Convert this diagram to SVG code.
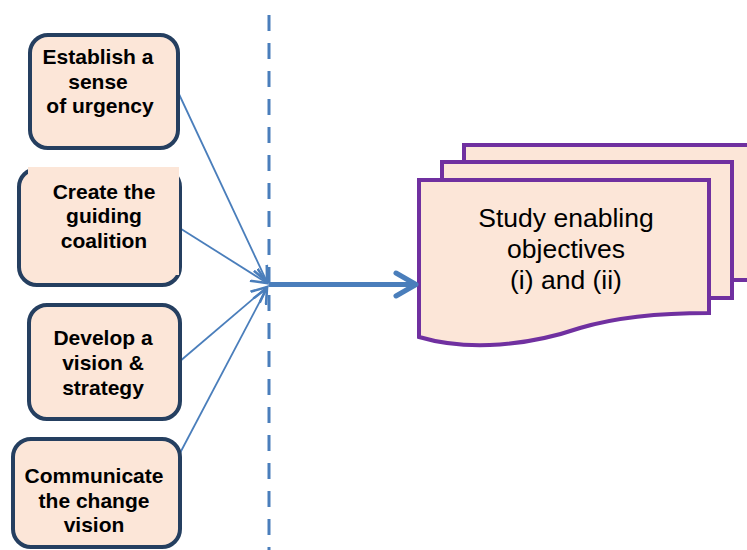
<svg xmlns="http://www.w3.org/2000/svg" width="747" height="550" viewBox="0 0 747 550">
<defs>
<style>
.box{fill:#FCE6D8;stroke:#253F60;stroke-width:4}
.lbl{font-family:"Liberation Sans",Arial,sans-serif;font-weight:bold;font-size:21px;fill:#000;text-anchor:middle}
.doc{fill:#FCE6D8;stroke:#7030A0;stroke-width:4;stroke-linejoin:miter}
.dtxt{font-family:"Liberation Sans",Arial,sans-serif;font-size:26.5px;fill:#000;text-anchor:middle}
.thin{stroke:#4A7EBB;stroke-width:1.8;fill:none}
</style>
<marker id="ah" markerUnits="userSpaceOnUse" markerWidth="20" markerHeight="20" refX="11" refY="6" orient="auto" viewBox="0 0 14 12">
<path d="M0,1 L11,6 L0,11" fill="none" stroke="#4A7EBB" stroke-width="1.8"/>
</marker>
</defs>
<rect width="747" height="550" fill="#fff"/>

<g id="docs">
<path class="doc" d="M464,145 H760 V280 H464 Z"/>
<path class="doc" d="M442,162 H732 V298 H442 Z"/>
<path class="doc" d="M419,180 H709 V313 C670,313 620,316 580,328 C530,345 470,352 419,337 Z"/>
<text class="dtxt" x="566" y="227">Study enabling</text>
<text class="dtxt" x="566" y="258">objectives</text>
<text class="dtxt" x="566" y="289">(i) and (ii)</text>
</g>

<g id="connectors">
<line x1="269" y1="15" x2="269" y2="550" stroke="#4A7EBB" stroke-width="3" stroke-dasharray="16 12"/>
<line class="thin" x1="178" y1="92" x2="267" y2="282" marker-end="url(#ah)"/>
<line class="thin" x1="178" y1="227" x2="267" y2="283" marker-end="url(#ah)"/>
<line class="thin" x1="179" y1="362" x2="267" y2="287" marker-end="url(#ah)"/>
<line class="thin" x1="179" y1="455" x2="267" y2="288" marker-end="url(#ah)"/>
<line x1="269" y1="284.5" x2="414" y2="284.5" stroke="#4A7EBB" stroke-width="5"/>
<polyline points="396,273 416,284.5 396,296" fill="none" stroke="#4A7EBB" stroke-width="5" stroke-linecap="round" stroke-linejoin="round"/>
</g>

<g id="n1">
<rect class="box" x="30" y="35" width="148" height="113" rx="18"/>
<text class="lbl" x="98" y="64">Establish a</text>
<text class="lbl" x="98" y="89">sense</text>
<text class="lbl" x="100" y="113">of urgency</text>
</g>

<g id="n2">
<rect class="box" x="19" y="169" width="161" height="116" rx="18"/>
<rect x="28" y="167" width="151" height="108" fill="#FCE6D8"/>
<text class="lbl" x="104" y="199">Create the</text>
<text class="lbl" x="104" y="223">guiding</text>
<text class="lbl" x="104" y="248">coalition</text>
</g>

<g id="n3">
<rect class="box" x="29" y="305" width="151" height="114" rx="18"/>
<text class="lbl" x="103" y="345">Develop a</text>
<text class="lbl" x="103" y="370">vision &amp;</text>
<text class="lbl" x="103" y="395">strategy</text>
</g>

<g id="n4">
<rect class="box" x="13" y="439" width="167" height="108" rx="18"/>
<text class="lbl" x="94" y="483">Communicate</text>
<text class="lbl" x="94" y="508">the change</text>
<text class="lbl" x="94" y="532">vision</text>
</g>
</svg>
